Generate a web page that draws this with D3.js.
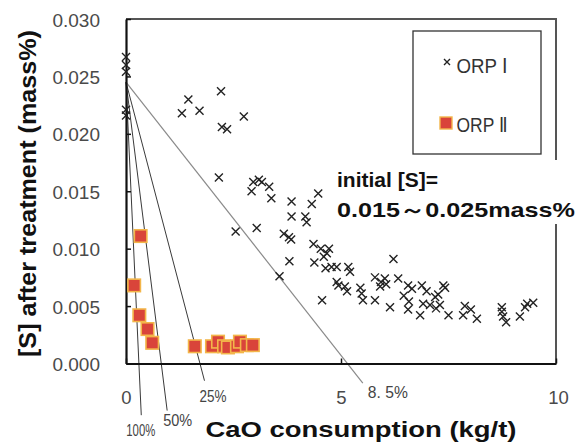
<!DOCTYPE html>
<html>
<head>
<meta charset="utf-8">
<script src="https://cdn.jsdelivr.net/npm/d3@7"></script>
<style>
  html, body { margin: 0; padding: 0; background: #fff; }
  svg { display: block; }
</style>
</head>
<body>
<svg id="chart" width="586" height="446"></svg>
<script>
// ORP I: CaO consumption (kg/t) and [S] after treatment (mass%)
const orp1X = [0, 0, 0, 0, 0,
  1.45, 1.30, 1.71, 2.21, 2.74, 2.23, 2.35, 2.16,
  2.96, 3.09, 3.16, 3.33, 2.92, 3.38, 3.85, 4.32, 4.47, 3.85, 4.17, 4.20,
  2.55, 3.04, 3.67, 3.79, 3.84, 3.80, 3.57,
  4.36, 4.53, 4.67, 4.72, 4.60, 4.38, 4.64, 4.78, 4.90, 5.17, 5.21,
  4.90, 5.09, 5.14, 4.94, 4.56, 5.45, 5.48, 5.51, 5.79, 6.14, 6.22,
  5.79, 5.93, 6.02, 6.05, 5.91, 6.33, 6.56, 6.65, 6.88, 6.99, 6.46, 6.58,
  6.56, 6.84, 6.91, 7.07, 7.19, 7.21, 7.30, 7.38, 7.42, 7.26, 7.50,
  7.84, 7.88, 8.02, 8.16, 8.74, 8.74, 8.77, 8.84, 9.16, 9.28, 9.33, 9.47];
const orp1Y = [0.0267, 0.0260, 0.0254, 0.0221, 0.0216,
  0.0230, 0.0218, 0.0220, 0.0237, 0.0215, 0.0206, 0.0204, 0.0162,
  0.0158, 0.0160, 0.0158, 0.0154, 0.0150, 0.0144, 0.0141, 0.0139, 0.0148, 0.0128, 0.0128, 0.0123,
  0.0115, 0.0118, 0.0113, 0.0110, 0.0108, 0.0089, 0.0076,
  0.0104, 0.0100, 0.0096, 0.0100, 0.0093, 0.0088, 0.0083, 0.0084, 0.0084, 0.0084, 0.0080,
  0.0071, 0.0067, 0.0063, 0.0068, 0.0055, 0.0066, 0.0061, 0.0055, 0.0055, 0.0049, 0.0091,
  0.0075, 0.0071, 0.0074, 0.0069, 0.0067, 0.0074, 0.0068, 0.0065, 0.0068, 0.0063, 0.0059, 0.0054,
  0.0047, 0.0042, 0.0052, 0.0051, 0.0058, 0.0048, 0.0051, 0.0068, 0.0066, 0.0060, 0.0042,
  0.0042, 0.0050, 0.0047, 0.0039, 0.0049, 0.0045, 0.0041, 0.0036, 0.0041, 0.0049, 0.0052, 0.0053];

// ORP II
const orp2X = [0.34, 0.19, 0.31, 0.50, 0.61,
  1.60, 2.00, 2.14, 2.28, 2.37, 2.58, 2.65, 2.81, 2.95];
const orp2Y = [0.0111, 0.0068, 0.0042, 0.0030, 0.0018,
  0.0015, 0.0015, 0.0019, 0.0015, 0.0014, 0.0015, 0.0019, 0.0016, 0.0016];

// Reference lines: desulfurization efficiency, x-intercept (kg/t) and lower end of each line
const effLabels = ["100%", "50%", "25%", "8. 5%"];
const effIntercepts = [0.30, 0.82, 1.72, 5.15];
const effLineEnds = [-0.0045, -0.0041, -0.0015, -0.0017];
const effStartS = 0.0245;

const yTicks = [0, 0.005, 0.010, 0.015, 0.020, 0.025, 0.030];
const xTicks = [0, 5, 10];

const svg = d3.select("#chart");
const x = d3.scaleLinear().domain([0, 10]).range([126, 556]);
const y = d3.scaleLinear().domain([0, 0.030]).range([363.5, 19]);

// frame: top and right sides
svg.append("path")
  .attr("d", `M${x(0)},${y(0.030)}H${x(10)}V${y(0)}`)
  .attr("fill", "none").attr("stroke", "#555").attr("stroke-width", 2);

// efficiency lines
const effLayer = svg.append("g");
effIntercepts.forEach((x0, i) => {
  const yEnd = effLineEnds[i];
  const xEnd = x0 * (effStartS - yEnd) / effStartS;
  effLayer.append("line")
    .attr("x1", x(0)).attr("y1", y(effStartS))
    .attr("x2", x(xEnd)).attr("y2", y(yEnd))
    .attr("stroke", i === 3 ? "#8a8a8a" : "#3a3a3a")
    .attr("stroke-width", i === 3 ? 1.2 : 1);
});

const labelPos = [
  { dx: -15, base: 436, w: 29 },
  { dx: -4, base: 425.5, w: 29 },
  { dx: -5, base: 401.5, w: 27 },
  { dx: 5, base: 398, w: 40 }
];
effLabels.forEach((t, i) => {
  const x0 = effIntercepts[i], yEnd = effLineEnds[i];
  const xEnd = x0 * (effStartS - yEnd) / effStartS;
  svg.append("text")
    .attr("x", x(xEnd) + labelPos[i].dx)
    .attr("y", labelPos[i].base)
    .attr("textLength", labelPos[i].w)
    .attr("lengthAdjust", "spacingAndGlyphs")
    .attr("font-family", "Liberation Sans, Arial, sans-serif")
    .attr("font-size", 16.5)
    .attr("fill", "#444")
    .text(t);
});

// axes
const yAxis = d3.axisLeft(y).tickValues(yTicks).tickFormat(d3.format(".3f"))
  .tickSizeInner(-5).tickSizeOuter(0).tickPadding(26);
const gy = svg.append("g").attr("transform", `translate(${x(0)},0)`).call(yAxis);
gy.select(".domain").attr("stroke", "#111").attr("stroke-width", 2.2);
gy.selectAll(".tick line").attr("stroke", "#111").attr("stroke-width", 1.5);
gy.selectAll(".tick text")
  .attr("font-family", "Liberation Sans, Arial, sans-serif")
  .attr("font-size", 19).attr("fill", "#4a4a4a").attr("dy", "0.37em");

const xAxis = d3.axisBottom(x).tickValues(xTicks).tickFormat(d3.format("d"))
  .tickSizeInner(-5).tickSizeOuter(0).tickPadding(27);
const gx = svg.append("g").attr("transform", `translate(0,${y(0)})`).call(xAxis);
gx.select(".domain").attr("stroke", "#111").attr("stroke-width", 2.2);
gx.selectAll(".tick line").attr("stroke", "#111").attr("stroke-width", 1.5);
gx.selectAll(".tick text")
  .attr("font-family", "Liberation Sans, Arial, sans-serif")
  .attr("font-size", 18.5).attr("fill", "#4a4a4a");
gx.selectAll(".tick text").filter(d => d === 10).attr("dx", 2);

// ORP II squares
const sq = 12.5;
svg.append("g").selectAll("rect")
  .data(orp2X.map((v, i) => [v, orp2Y[i]]))
  .join("rect")
  .attr("x", d => x(d[0]) - sq / 2)
  .attr("y", d => y(d[1]) - sq / 2)
  .attr("width", sq).attr("height", sq)
  .attr("fill", "#d9443a")
  .attr("stroke", "#f3b64a").attr("stroke-width", 1.6);

// ORP I crosses
const cr = 4;
const crossPath = (cx, cy) =>
  `M${cx - cr},${cy - cr}L${cx + cr},${cy + cr}M${cx - cr},${cy + cr}L${cx + cr},${cy - cr}`;
svg.append("g").selectAll("path")
  .data(orp1X.map((v, i) => [v, orp1Y[i]]))
  .join("path")
  .attr("d", d => crossPath(x(d[0]), y(d[1])))
  .attr("fill", "none").attr("stroke", "#222").attr("stroke-width", 1.4);

// annotation with white backing
svg.append("rect").attr("x", 334).attr("y", 160).attr("width", 246).attr("height", 64).attr("fill", "#fff");
const ann = svg.append("g")
  .attr("font-family", "Liberation Sans, Arial, sans-serif")
  .attr("font-weight", "bold").attr("font-size", 21).attr("fill", "#111");
ann.append("text").attr("x", 337).attr("y", 187).text("initial [S]=");
ann.append("text").attr("x", 337).attr("y", 217)
  .attr("textLength", 238).attr("lengthAdjust", "spacingAndGlyphs")
  .text("0.015～0.025mass%");

// legend
const lg = svg.append("g");
lg.append("rect").attr("x", 413).attr("y", 31).attr("width", 128).attr("height", 123)
  .attr("fill", "#fff").attr("stroke", "#333").attr("stroke-width", 1.3);
lg.append("path")
  .attr("d", `M444,59L450,65M444,65L450,59`)
  .attr("stroke", "#222").attr("stroke-width", 1.4);
lg.append("rect").attr("x", 440).attr("y", 117).attr("width", 12).attr("height", 12)
  .attr("fill", "#d9443a").attr("stroke", "#f3b64a").attr("stroke-width", 1.4);
const lgText = [["ORP Ⅰ", 72.5], ["ORP Ⅱ", 131.5]];
lgText.forEach(([t, by]) => {
  lg.append("text").attr("x", 456.5).attr("y", by)
    .attr("textLength", 51).attr("lengthAdjust", "spacingAndGlyphs")
    .attr("font-family", "Liberation Sans Narrow, Liberation Sans, sans-serif")
    .attr("font-size", 20).attr("fill", "#333")
    .text(t);
});

// axis titles
svg.append("text")
  .attr("transform", "translate(36,193.5) rotate(-90)")
  .attr("text-anchor", "middle")
  .attr("textLength", 327).attr("lengthAdjust", "spacingAndGlyphs")
  .attr("font-family", "Liberation Sans, Arial, sans-serif")
  .attr("font-weight", "bold").attr("font-size", 23).attr("fill", "#111")
  .text("[S] after treatment (mass%)");

svg.append("text")
  .attr("x", 361).attr("y", 437)
  .attr("text-anchor", "middle")
  .attr("textLength", 311).attr("lengthAdjust", "spacingAndGlyphs")
  .attr("font-family", "Liberation Sans, Arial, sans-serif")
  .attr("font-weight", "bold").attr("font-size", 22).attr("fill", "#111")
  .text("CaO consumption (kg/t)");
</script>
</body>
</html>
